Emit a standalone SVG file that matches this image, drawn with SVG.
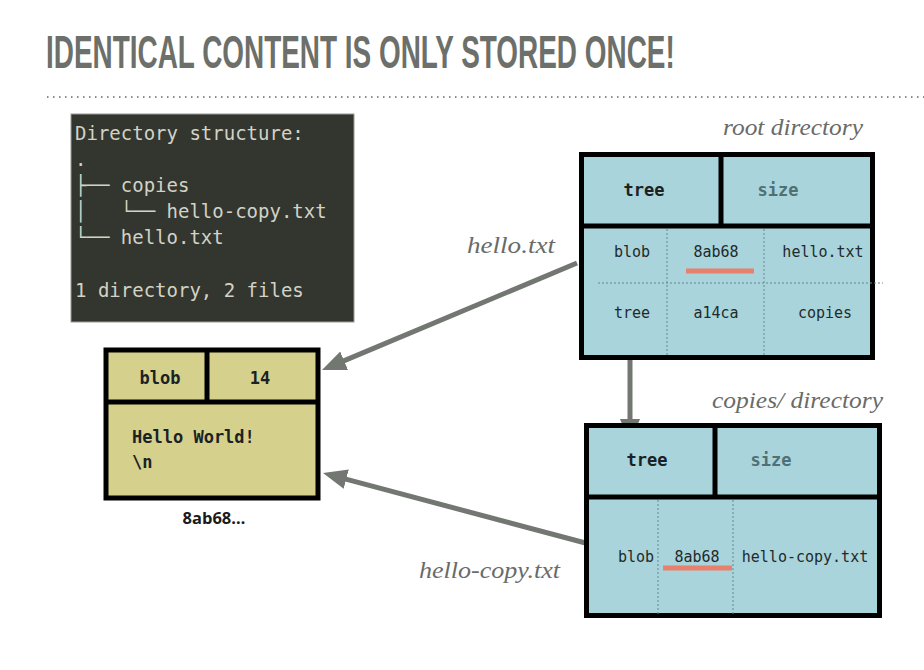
<svg xmlns="http://www.w3.org/2000/svg" width="924" height="670" viewBox="0 0 924 670">
  <style>
    .title { font-family: "Liberation Sans", "DejaVu Sans", sans-serif; font-weight: bold; font-size: 46px; fill: #6d6f6a; }
    .term { font-family: "DejaVu Sans Mono", "Liberation Mono", monospace; font-size: 19px; fill: #d2d2c6; }
    .note { font-family: "Liberation Serif", serif; font-style: italic; font-size: 24px; fill: #6a6b68; }
    .hdr { font-family: "DejaVu Sans Mono", "Liberation Mono", monospace; font-size: 17px; font-weight: bold; fill: #1a2224; text-anchor: middle; }
    .body { font-family: "DejaVu Sans Mono", "Liberation Mono", monospace; font-size: 17px; font-weight: bold; fill: #1a2224; text-anchor: start; }
    .hdr-dim { fill: #4f7074; }
    .cell { font-family: "DejaVu Sans Mono", "Liberation Mono", monospace; font-size: 15px; fill: #1f2a2c; text-anchor: middle; }
    .box { stroke: #000; stroke-width: 5; }
    .blue { fill: #a9d4db; }
    .khaki { fill: #d6d08d; }
    .rule { stroke: #000; stroke-width: 5; }
    .dots { stroke: #5f8a90; stroke-width: 1; stroke-dasharray: 2 2; fill: none; }
    .mark { stroke: #e8806c; stroke-width: 5; }
    .conn { stroke: #727772; stroke-width: 5; fill: none; marker-end: url(#head); }
  </style>
  <defs>
    <marker id="head" markerUnits="userSpaceOnUse" markerWidth="26" markerHeight="22" refX="14" refY="10" orient="auto">
      <path d="M0,0 L24,10 L0,20 z" fill="#727772"/>
    </marker>
  </defs>

  <rect width="924" height="670" fill="#ffffff"/>

  <!-- heading (condensed by a horizontal scale) and dotted rule -->
  <text class="title" transform="translate(46,68) scale(0.58,1)" x="0" y="0" textLength="1084" lengthAdjust="spacingAndGlyphs">IDENTICAL CONTENT IS ONLY STORED ONCE!</text>
  <line x1="47" y1="97" x2="924" y2="97" stroke="#8a8c88" stroke-width="2" stroke-dasharray="1.5 4.5"/>

  <!-- connectors -->
  <g id="connectors">
    <line class="conn" x1="577" y1="263" x2="331.2" y2="366.1"/>
    <line class="conn" x1="630" y1="360" x2="630" y2="433"/>
    <line class="conn" x1="593" y1="545" x2="332.7" y2="475.6"/>
    <text class="note" x="467" y="253" textLength="88" lengthAdjust="spacingAndGlyphs">hello.txt</text>
    <text class="note" x="419" y="578" textLength="141" lengthAdjust="spacingAndGlyphs">hello-copy.txt</text>
  </g>

  <!-- terminal listing -->
  <g id="terminal">
    <rect x="71" y="114" width="283" height="208" fill="#33362f" stroke="#9a9a95" stroke-width="1"/>
    <text class="term" x="75" y="140" xml:space="preserve">Directory structure:</text>
    <text class="term" x="75" y="166" xml:space="preserve">.</text>
    <text class="term" x="75" y="192" xml:space="preserve">├── copies</text>
    <text class="term" x="75" y="218" xml:space="preserve">│   └── hello-copy.txt</text>
    <text class="term" x="75" y="244" xml:space="preserve">└── hello.txt</text>
    <text class="term" x="75" y="297" xml:space="preserve">1 directory, 2 files</text>
  </g>

  <!-- blob object -->
  <g id="blob">
    <rect class="khaki box" x="106" y="350" width="212" height="148" stroke-width="4"/>
    <line class="rule" x1="104" y1="402" x2="320" y2="402" stroke-width="4"/>
    <line class="rule" x1="207" y1="348" x2="207" y2="402" stroke-width="4"/>
    <text class="hdr" x="160" y="384">blob</text>
    <text class="hdr" x="260" y="384">14</text>
    <text class="body" x="132" y="443">Hello World!</text>
    <text class="body" x="132" y="468">\n</text>
    <text x="214" y="524" text-anchor="middle" font-family="Open Sans, Liberation Sans, sans-serif" font-weight="bold" font-size="16.5" fill="#1a1a1a">8ab68…</text>
  </g>

  <!-- root directory tree -->
  <g id="root-tree">
    <text class="note" x="863" y="135" text-anchor="end" textLength="140" lengthAdjust="spacingAndGlyphs">root directory</text>
    <rect class="blue box" x="581.5" y="154.5" width="291" height="203"/>
    <line class="rule" x1="579" y1="226" x2="875" y2="226"/>
    <line class="rule" x1="721" y1="152" x2="721" y2="226"/>
    <line class="dots" x1="667" y1="229" x2="667" y2="355"/>
    <line class="dots" x1="764" y1="229" x2="764" y2="355"/>
    <line class="dots" x1="598" y1="283" x2="883" y2="283"/>
    <text class="hdr" x="644" y="196">tree</text>
    <text class="hdr hdr-dim" x="778" y="196">size</text>
    <text class="cell" x="632" y="257">blob</text>
    <text class="cell" x="716" y="257">8ab68</text>
    <text class="cell" x="823" y="257">hello.txt</text>
    <line class="mark" x1="686" y1="271" x2="754" y2="271"/>
    <text class="cell" x="632" y="318">tree</text>
    <text class="cell" x="716" y="318">a14ca</text>
    <text class="cell" x="825" y="318">copies</text>
  </g>

  <!-- copies/ directory tree -->
  <g id="copies-tree">
    <text class="note" x="883" y="408" text-anchor="end" textLength="171" lengthAdjust="spacingAndGlyphs">copies/ directory</text>
    <rect class="blue box" x="586.5" y="425.5" width="293" height="190"/>
    <line class="rule" x1="584" y1="497" x2="882" y2="497"/>
    <line class="rule" x1="715" y1="428" x2="715" y2="497"/>
    <line class="dots" x1="658" y1="500" x2="658" y2="614"/>
    <line class="dots" x1="733" y1="500" x2="733" y2="614"/>
    <text class="hdr" x="647" y="466">tree</text>
    <text class="hdr hdr-dim" x="771" y="466">size</text>
    <text class="cell" x="636" y="562">blob</text>
    <text class="cell" x="697" y="562">8ab68</text>
    <text class="cell" x="805" y="562">hello-copy.txt</text>
    <line class="mark" x1="663" y1="568" x2="732" y2="568"/>
  </g>
</svg>
